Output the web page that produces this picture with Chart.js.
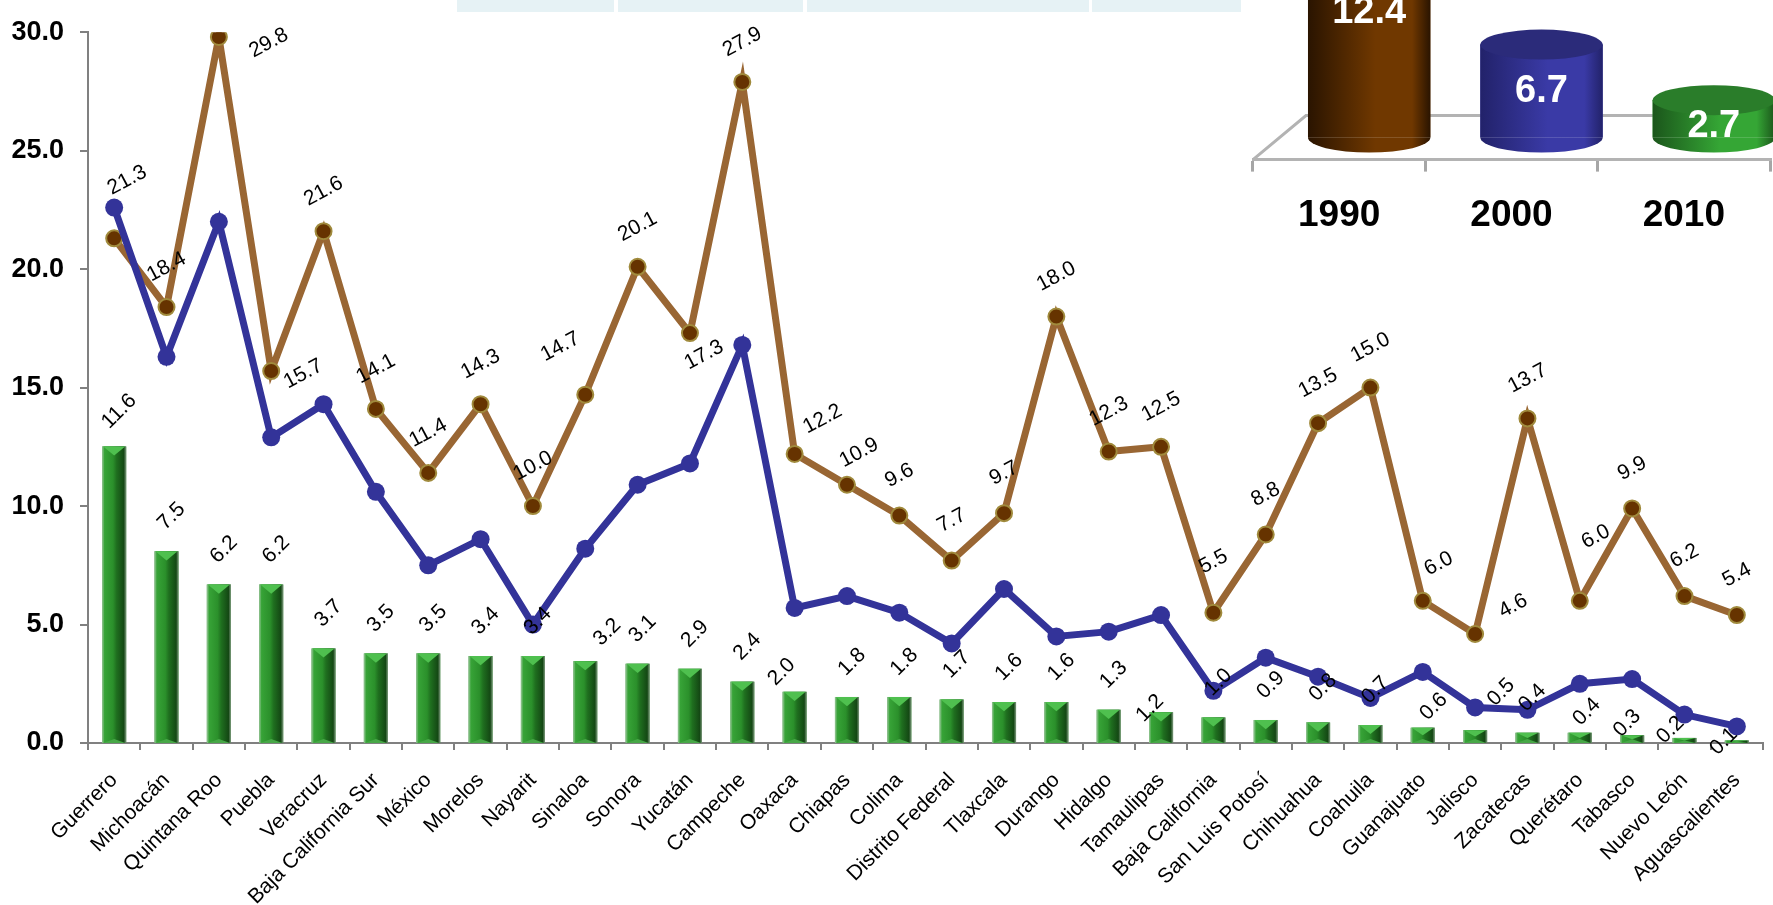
<!DOCTYPE html>
<html>
<head>
<meta charset="utf-8">
<script src="https://cdn.jsdelivr.net/npm/chart.js@4.4.1/dist/chart.umd.min.js"></script>
<style>
  html, body { margin: 0; padding: 0; background: #fff; }
  body { width: 1773px; height: 905px; position: relative; overflow: hidden; }
  canvas { position: absolute; }
  #main { left: 0; top: 0; }
  #inset { left: 1240px; top: 0; }
  .cell { position: absolute; top: 0; height: 12px; background: #e6f2f5; }
</style>
</head>
<body>
<canvas id="main" width="1773" height="905"></canvas>
<div class="cell" style="left:457px;width:157px"></div>
<div class="cell" style="left:618px;width:185px"></div>
<div class="cell" style="left:807px;width:282px"></div>
<div class="cell" style="left:1092px;width:149px"></div>
<canvas id="inset" width="533" height="260"></canvas>
<script>
const states = ["Guerrero", "Michoacán", "Quintana Roo", "Puebla", "Veracruz", "Baja California Sur",
  "México", "Morelos", "Nayarit", "Sinaloa", "Sonora", "Yucatán", "Campeche", "Oaxaca", "Chiapas",
  "Colima", "Distrito Federal", "Tlaxcala", "Durango", "Hidalgo", "Tamaulipas", "Baja California",
  "San Luis Potosí", "Chihuahua", "Coahuila", "Guanajuato", "Jalisco", "Zacatecas", "Querétaro",
  "Tabasco", "Nuevo León", "Aguascalientes"];

const rate1990 = [21.3, 18.4, 29.8, 15.7, 21.6, 14.1, 11.4, 14.3, 10.0, 14.7, 20.1, 17.3, 27.9, 12.2,
  10.9, 9.6, 7.7, 9.7, 18.0, 12.3, 12.5, 5.5, 8.8, 13.5, 15.0, 6.0, 4.6, 13.7, 6.0, 9.9, 6.2, 5.4];

const rate2000 = [22.6, 16.3, 22.0, 12.9, 14.3, 10.6, 7.5, 8.6, 5.0, 8.2, 10.9, 11.8, 16.8, 5.7,
  6.2, 5.5, 4.2, 6.5, 4.5, 4.7, 5.4, 2.2, 3.6, 2.8, 1.9, 3.0, 1.5, 1.4, 2.5, 2.7, 1.2, 0.7];

const rate2010 = [11.6, 7.5, 6.2, 6.2, 3.7, 3.5, 3.5, 3.4, 3.4, 3.2, 3.1, 2.9, 2.4, 2.0, 1.8, 1.8,
  1.7, 1.6, 1.6, 1.3, 1.2, 1.0, 0.9, 0.8, 0.7, 0.6, 0.5, 0.4, 0.4, 0.3, 0.2, 0.1];

const yTicks = [0, 5, 10, 15, 20, 25, 30];

const years = ["1990", "2000", "2010"];
const nationalRate = [12.4, 6.7, 2.7];

Chart.defaults.font.family = "'Liberation Sans', Arial, sans-serif";
Chart.defaults.color = "#000";

// bevelled look for the green bars
const barBevel = {
  id: "barBevel",
  afterDatasetDraw(chart, args) {
    if (chart.data.datasets[args.index].type !== "bar") return;
    const ctx = chart.ctx;
    ctx.save();
    args.meta.data.forEach(bar => {
      const { x, y, base, width } = bar.getProps(["x", "y", "base", "width"], true);
      const l = x - width / 2, r = x + width / 2, h = base - y;
      const g = ctx.createLinearGradient(l, 0, r, 0);
      g.addColorStop(0, "#9cc89c");
      g.addColorStop(0.1, "#37a337");
      g.addColorStop(0.45, "#2b902b");
      g.addColorStop(0.6, "#1f6f1f");
      g.addColorStop(0.9, "#144814");
      g.addColorStop(1, "#7f9a7f");
      ctx.fillStyle = g;
      ctx.fillRect(l, y, width, h);
      const d = Math.min(width * 0.38, h / 2);
      ctx.fillStyle = "#4fc04f";
      ctx.beginPath();
      ctx.moveTo(l + 1, y); ctx.lineTo(r - 1, y); ctx.lineTo(x, y + d); ctx.closePath();
      ctx.fill();
      ctx.fillStyle = "#47a847";
      ctx.beginPath();
      ctx.moveTo(l + 1, base); ctx.lineTo(r - 1, base); ctx.lineTo(x, base - Math.min(d, 4)); ctx.closePath();
      ctx.fill();
    });
    ctx.restore();
  }
};

const valueLabels = {
  id: "valueLabels",
  afterDatasetsDraw(chart, args, opts) {
    const ctx = chart.ctx;
    ctx.save();
    ctx.font = opts.font;
    ctx.fillStyle = "#000";
    ctx.textAlign = "center";
    ctx.textBaseline = "middle";
    opts.sets.forEach(set => {
      const meta = chart.getDatasetMeta(set.dataset);
      const values = chart.data.datasets[set.dataset].data;
      meta.data.forEach((el, i) => {
        const off = set.offsets[i] || set.offset;
        ctx.save();
        ctx.translate(el.x + off[0], el.y + off[1]);
        ctx.rotate(set.angle * Math.PI / 180);
        ctx.fillText(values[i].toFixed(1), 0, 0);
        ctx.restore();
      });
    });
    ctx.restore();
  }
};

new Chart(document.getElementById("main"), {
  type: "bar",
  data: {
    labels: states,
    datasets: [
      {
        type: "line", label: "2000", data: rate2000, yAxisID: "y", order: 0,
        borderColor: "#333399", borderWidth: 7, tension: 0,
        pointRadius: 9, pointBackgroundColor: "#333399", pointBorderColor: "#333399", pointBorderWidth: 0
      },
      {
        type: "line", label: "1990", data: rate1990, yAxisID: "y", order: 1,
        borderColor: "#996633", borderWidth: 7, tension: 0,
        pointRadius: 8, pointBackgroundColor: "#663300", pointBorderColor: "#a08a3c", pointBorderWidth: 2
      },
      {
        type: "bar", label: "2010", data: rate2010, yAxisID: "yBar", order: 2,
        backgroundColor: "#2e8b2e", barPercentage: 0.46, categoryPercentage: 1
      }
    ]
  },
  options: {
    responsive: false,
    animation: false,
    devicePixelRatio: 1,
    layout: { padding: { top: 22, right: 0, left: 0, bottom: 0 } },
    plugins: {
      legend: { display: false },
      tooltip: { enabled: false },
      valueLabels: {
        font: "21px 'Liberation Sans', Arial, sans-serif",
        sets: [
          {
            dataset: 1, angle: -28, offset: [0, -40],
            offsets: { 0: [13, -58], 2: [50, 6], 3: [32, 3], 9: [-25, -48], 11: [14, 22], 13: [28, -35],
              14: [12, -32], 21: [0, -51], 25: [16, -37], 26: [38, -28], 28: [16, -64] }
          },
          {
            dataset: 2, angle: -45, offset: [5, -35],
            offsets: { 9: [22, -29], 13: [-13, -20], 20: [-11, -4], 25: [11, -21], 26: [26, -38],
              28: [7, -21], 29: [-5, -12], 30: [-14, -8], 31: [-13, 1] }
          }
        ]
      }
    },
    scales: {
      x: {
        offset: true,
        grid: { display: true, drawOnChartArea: false, offset: true, tickLength: 7, color: "#808080", lineWidth: 2 },
        border: { color: "#808080", width: 2 },
        ticks: { autoSkip: false, minRotation: 45, maxRotation: 45, padding: 18, font: { size: 21 } },
        afterFit(scale) { scale.height = 162; }
      },
      y: {
        min: 0, max: 30,
        grid: { drawOnChartArea: false, tickLength: 8, color: "#808080", lineWidth: 2 },
        border: { color: "#808080", width: 2 },
        ticks: { padding: 16, font: { size: 27, weight: "bold" }, callback: v => v.toFixed(1) },
        afterBuildTicks(scale) { scale.ticks = yTicks.map(v => ({ value: v })); },
        afterFit(scale) { scale.width = 88; }
      },
      yBar: { display: false, min: 0, max: 27.8 }
    }
  },
  plugins: [barBevel, valueLabels]
});

// pseudo 3D cylinders for the national rate
const cylinderColors = [
  { edge: "#2a1400", mid: "#703800", top: "#5c2e00" },
  { edge: "#22226a", mid: "#3a3aa6", top: "#2b2b7a" },
  { edge: "#1b561b", mid: "#35a635", top: "#2a7d2a" }
];
const depth = { dx: 30, dy: -22, backX: 53, backY: -44 };

const cylinders = {
  id: "cylinders",
  beforeDatasetsDraw(chart) {
    const ctx = chart.ctx;
    const a = chart.chartArea;
    ctx.save();
    ctx.strokeStyle = "#b3b3b3";
    ctx.lineWidth = 3;
    ctx.beginPath();
    ctx.moveTo(a.left, a.bottom);
    ctx.lineTo(a.left + depth.backX, a.bottom + depth.backY);
    ctx.lineTo(chart.width, a.bottom + depth.backY);
    ctx.stroke();
    ctx.restore();
    ctx.save();
    ctx.translate(depth.dx, depth.dy);
  },
  afterDatasetsDraw(chart) {
    const ctx = chart.ctx;
    const meta = chart.getDatasetMeta(0);
    meta.data.forEach((bar, i) => {
      const { x, y, base, width } = bar.getProps(["x", "y", "base", "width"], true);
      const c = cylinderColors[i];
      const rx = width / 2, ry = 15;
      const g = ctx.createLinearGradient(x - rx, 0, x + rx, 0);
      g.addColorStop(0, c.edge);
      g.addColorStop(0.55, c.mid);
      g.addColorStop(0.85, c.mid);
      g.addColorStop(1, c.edge);
      ctx.fillStyle = g;
      ctx.fillRect(x - rx, y, width, base - y);
      ctx.beginPath();
      ctx.ellipse(x, base, rx, ry, 0, 0, Math.PI);
      ctx.fill();
      ctx.fillStyle = c.top;
      ctx.beginPath();
      ctx.ellipse(x, y, rx, ry, 0, 0, Math.PI * 2);
      ctx.fill();
      ctx.fillStyle = "#fff";
      ctx.font = "bold 38px 'Liberation Sans', Arial, sans-serif";
      ctx.textAlign = "center";
      ctx.textBaseline = "middle";
      const ly = Math.min(y + 47, (y + base) / 2 + 8);
      ctx.fillText(chart.data.datasets[0].data[i].toFixed(1), x, ly);
    });
    ctx.restore();
  }
};

new Chart(document.getElementById("inset"), {
  type: "bar",
  data: {
    labels: years,
    datasets: [{
      data: nationalRate,
      backgroundColor: cylinderColors.map(c => c.mid),
      barPercentage: 0.71, categoryPercentage: 1
    }]
  },
  options: {
    responsive: false,
    animation: false,
    devicePixelRatio: 1,
    layout: { padding: { left: 13, right: 3, top: 0, bottom: 0 } },
    plugins: { legend: { display: false }, tooltip: { enabled: false } },
    scales: {
      x: {
        grid: { drawOnChartArea: false, offset: true, tickLength: 12, color: "#a6a6a6", lineWidth: 3 },
        border: { color: "#b3b3b3", width: 3 },
        ticks: { padding: 22, font: { size: 37, weight: "bold" } }
      },
      y: { display: false, min: 0, max: 11.5 }
    }
  },
  plugins: [cylinders]
});
</script>
</body>
</html>
